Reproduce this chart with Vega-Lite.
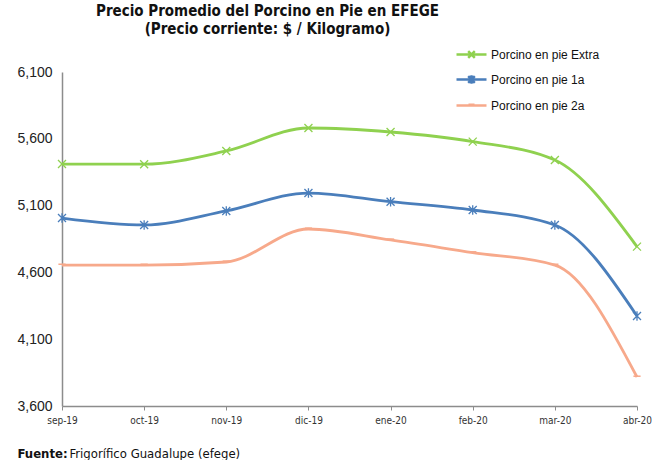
{
  "$schema": "https://vega.github.io/schema/vega-lite/v6.json",
  "width": 575,
  "height": 334,
  "autosize": {"type": "none"},
  "padding": {"left": 62, "top": 72, "right": 16, "bottom": 54},
  "background": "white",
  "title": {
    "text": ["Precio Promedio del Porcino en Pie en EFEGE", "(Precio corriente: $ / Kilogramo)"],
    "font": "Liberation Sans Narrow, DejaVu Sans Condensed, Arial, sans-serif",
    "fontSize": 15,
    "fontWeight": "bold",
    "color": "#111111",
    "anchor": "middle",
    "frame": "group",
    "dx": -82,
    "offset": 1,
    "lineHeight": 18
  },
  "config": {
    "view": {"stroke": null},
    "font": "Liberation Sans, Arial, sans-serif"
  },
  "data": {
    "values": [
      {"mes": "sep-19", "serie": "Porcino en pie Extra", "precio": 5411},
      {"mes": "oct-19", "serie": "Porcino en pie Extra", "precio": 5410},
      {"mes": "nov-19", "serie": "Porcino en pie Extra", "precio": 5509},
      {"mes": "dic-19", "serie": "Porcino en pie Extra", "precio": 5681},
      {"mes": "ene-20", "serie": "Porcino en pie Extra", "precio": 5651},
      {"mes": "feb-20", "serie": "Porcino en pie Extra", "precio": 5579},
      {"mes": "mar-20", "serie": "Porcino en pie Extra", "precio": 5441},
      {"mes": "abr-20", "serie": "Porcino en pie Extra", "precio": 4793},
      {"mes": "sep-19", "serie": "Porcino en pie 1a", "precio": 5007},
      {"mes": "oct-19", "serie": "Porcino en pie 1a", "precio": 4955},
      {"mes": "nov-19", "serie": "Porcino en pie 1a", "precio": 5060},
      {"mes": "dic-19", "serie": "Porcino en pie 1a", "precio": 5194},
      {"mes": "ene-20", "serie": "Porcino en pie 1a", "precio": 5129},
      {"mes": "feb-20", "serie": "Porcino en pie 1a", "precio": 5067},
      {"mes": "mar-20", "serie": "Porcino en pie 1a", "precio": 4955},
      {"mes": "abr-20", "serie": "Porcino en pie 1a", "precio": 4274},
      {"mes": "sep-19", "serie": "Porcino en pie 2a", "precio": 4655},
      {"mes": "oct-19", "serie": "Porcino en pie 2a", "precio": 4655},
      {"mes": "nov-19", "serie": "Porcino en pie 2a", "precio": 4678},
      {"mes": "dic-19", "serie": "Porcino en pie 2a", "precio": 4925},
      {"mes": "ene-20", "serie": "Porcino en pie 2a", "precio": 4843},
      {"mes": "feb-20", "serie": "Porcino en pie 2a", "precio": 4748},
      {"mes": "mar-20", "serie": "Porcino en pie 2a", "precio": 4655},
      {"mes": "abr-20", "serie": "Porcino en pie 2a", "precio": 3817}
    ]
  },
  "encoding": {
    "x": {
      "field": "mes",
      "type": "ordinal",
      "sort": null,
      "scale": {"type": "point", "padding": 0},
      "axis": {
        "title": "Frigorífico Guadalupe (efege)",
        "titleFont": "Liberation Sans Narrow, DejaVu Sans Condensed, Arial, sans-serif",
        "titleFontSize": 13,
        "titleFontWeight": "normal",
        "titleColor": "#111111",
        "titleAlign": "left",
        "titleAnchor": "start",
        "titleBaseline": "alphabetic",
        "titleX": 7,
        "titleY": 51,
        "labelAngle": 0,
        "labelFont": "Liberation Sans Narrow, DejaVu Sans Condensed, Arial, sans-serif",
        "labelFontSize": 10,
        "labelColor": "#333333",
        "labelPadding": 5,
        "labelFlush": false,
        "domainColor": "#8c8c8c",
        "domainWidth": 1.5,
        "tickColor": "#8c8c8c",
        "tickSize": 4,
        "grid": false
      }
    },
    "y": {
      "field": "precio",
      "type": "quantitative",
      "scale": {"domain": [3600, 6100], "nice": false, "zero": false},
      "axis": {
        "title": "Fuente:",
        "titleFont": "Liberation Sans Narrow, DejaVu Sans Condensed, Arial, sans-serif",
        "titleFontSize": 13,
        "titleFontWeight": "bold",
        "titleColor": "#111111",
        "titleAngle": 0,
        "titleAlign": "left",
        "titleBaseline": "alphabetic",
        "titleX": -45,
        "titleY": 385,
        "values": [3600, 4100, 4600, 5100, 5600, 6100],
        "format": ",d",
        "labelFontSize": 14,
        "labelColor": "#222222",
        "labelPadding": 10,
        "ticks": false,
        "grid": false,
        "domainColor": "#8c8c8c",
        "domainWidth": 1.5
      }
    }
  },
  "layer": [
    {
      "mark": {"type": "line", "interpolate": "monotone", "strokeWidth": 2.8},
      "encoding": {
        "color": {
          "field": "serie",
          "type": "nominal",
          "scale": {
            "domain": ["Porcino en pie Extra", "Porcino en pie 1a", "Porcino en pie 2a"],
            "range": ["#8fd14f", "#4a7ebb", "#f7a98b"]
          },
          "legend": {
            "title": null,
            "orient": "none",
            "legendX": 393,
            "legendY": -34,
            "symbolType": "stroke",
            "symbolSize": 900,
            "symbolStrokeWidth": 2.5,
            "labelFontSize": 12,
            "labelColor": "#111111",
            "labelOffset": 3,
            "rowPadding": -1.5,
            "encode": {
              "symbols": {
                "update": {
                  "shape": {"signal": "datum.value == 'Porcino en pie Extra' ? 'M-1,0L1,0M-0.22,-0.22L0.22,0.22M0.22,-0.22L-0.22,0.22' : datum.value == 'Porcino en pie 1a' ? 'M-1,0L1,0M-0.22,-0.22L0.22,0.22M0.22,-0.22L-0.22,0.22M0,-0.28L0,0.28' : 'M-1,0L1,0M-0.2,-0.05L0.2,-0.05'"}
                }
              }
            }
          }
        }
      }
    },
    {
      "transform": [{"filter": "datum.serie == 'Porcino en pie Extra'"}],
      "mark": {"type": "point", "filled": false, "strokeWidth": 1.3, "size": 64, "opacity": 1, "shape": "M-1,-1L1,1M1,-1L-1,1"},
      "encoding": {"color": {"field": "serie", "type": "nominal", "legend": null}}
    },
    {
      "transform": [{"filter": "datum.serie == 'Porcino en pie 1a'"}],
      "mark": {"type": "point", "filled": false, "strokeWidth": 1.3, "size": 64, "opacity": 1, "shape": "M-1,-1L1,1M1,-1L-1,1M0,-1.2L0,1.2"},
      "encoding": {"color": {"field": "serie", "type": "nominal", "legend": null}}
    },
    {
      "transform": [{"filter": "datum.serie == 'Porcino en pie 2a'"}],
      "mark": {"type": "point", "filled": false, "strokeWidth": 1.5, "size": 64, "opacity": 1, "shape": "M-0.9,-0.2L0.9,-0.2"},
      "encoding": {"color": {"field": "serie", "type": "nominal", "legend": null}}
    }
  ]
}
